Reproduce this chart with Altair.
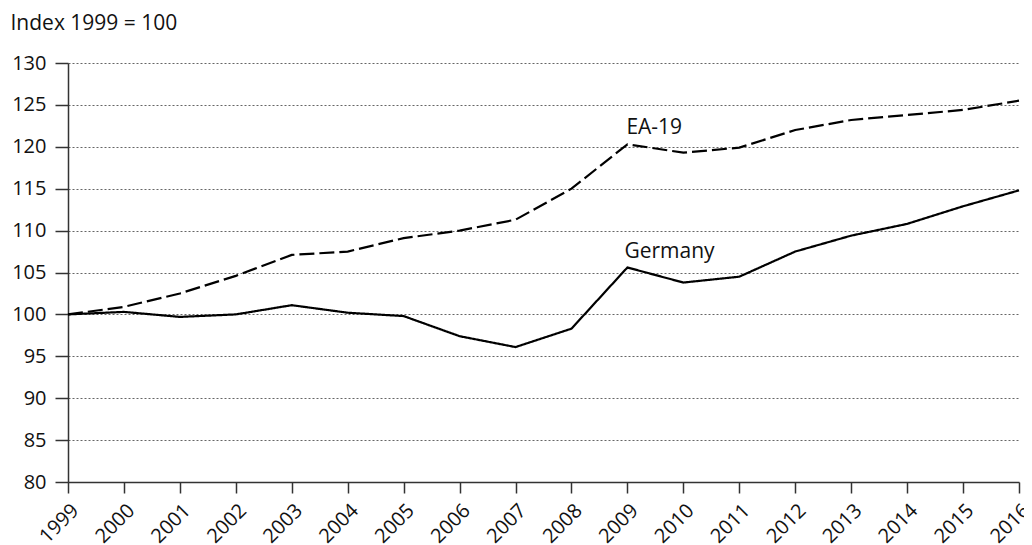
import altair as alt
import pandas as pd

years = list(range(1999, 2017))
ea19 = [100.0, 100.9, 102.5, 104.6, 107.1, 107.5, 109.1, 110.0, 111.3, 115.0,
        120.3, 119.3, 119.9, 122.0, 123.2, 123.8, 124.4, 125.5]
germany = [100.0, 100.3, 99.7, 100.0, 101.1, 100.2, 99.8, 97.4, 96.1, 98.3,
           105.6, 103.8, 104.5, 107.5, 109.4, 110.8, 112.9, 114.8]
series_names = ["EA-19", "Germany"]
label_years = [2009, 2009]
label_values = [121.5, 106.7]

df = pd.DataFrame({
    "year": years * 2,
    "value": ea19 + germany,
    "series": [series_names[0]] * len(years) + [series_names[1]] * len(years),
})
labels = pd.DataFrame({"year": label_years, "value": label_values,
                       "series": series_names})

FONT = "Open Sans"

x = alt.X("year:Q", scale=alt.Scale(domain=[1999, 2016], nice=False),
          axis=alt.Axis(values=years, format="d", labelAngle=-45, grid=False,
                        title=None, labelFontSize=20, labelFont=FONT,
                        tickSize=11, tickColor="#333", domainColor="#333",
                        domainWidth=1.5, tickWidth=1.5, labelColor="#111",
                        labelPadding=7))
y = alt.Y("value:Q", scale=alt.Scale(domain=[80, 130], nice=False, zero=False),
          axis=alt.Axis(values=list(range(80, 131, 5)), grid=True,
                        gridDash=[2, 2], gridColor="#666", gridWidth=1,
                        tickSize=13, tickColor="#333", domainColor="#333",
                        domainWidth=1.5, tickWidth=1.5,
                        labelFontSize=20, labelFont=FONT, labelColor="#111",
                        labelPadding=9,
                        title="Index 1999 = 100", titleAngle=0, titleAlign="left",
                        titleBaseline="middle", titleX=-58, titleY=-40,
                        titleFont=FONT, titleFontSize=21, titleFontWeight="normal",
                        titleColor="#111"))

lines = alt.Chart(df).mark_line(color="black", strokeWidth=2.2).encode(
    x=x, y=y,
    strokeDash=alt.StrokeDash("series:N",
                              scale=alt.Scale(domain=series_names, range=[[15, 5], [1, 0]]),
                              legend=None),
)

text_ea = alt.Chart(labels.iloc[[0]]).mark_text(
    align="left", baseline="alphabetic", dx=-1, font=FONT, fontSize=21, color="#111"
).encode(x="year:Q", y="value:Q", text="series:N")
text_de = alt.Chart(labels.iloc[[1]]).mark_text(
    align="left", baseline="alphabetic", dx=-3, font=FONT, fontSize=21, color="#111"
).encode(x="year:Q", y="value:Q", text="series:N")

chart = alt.layer(lines, text_ea, text_de).properties(
    width=951, height=419,
    autosize=alt.AutoSizeParams(type="none"),
    padding={"left": 60, "top": 55, "right": 5, "bottom": 62},
).configure_view(stroke=None)

chart.save("out.html", embed_options={"renderer": "svg", "actions": False})
